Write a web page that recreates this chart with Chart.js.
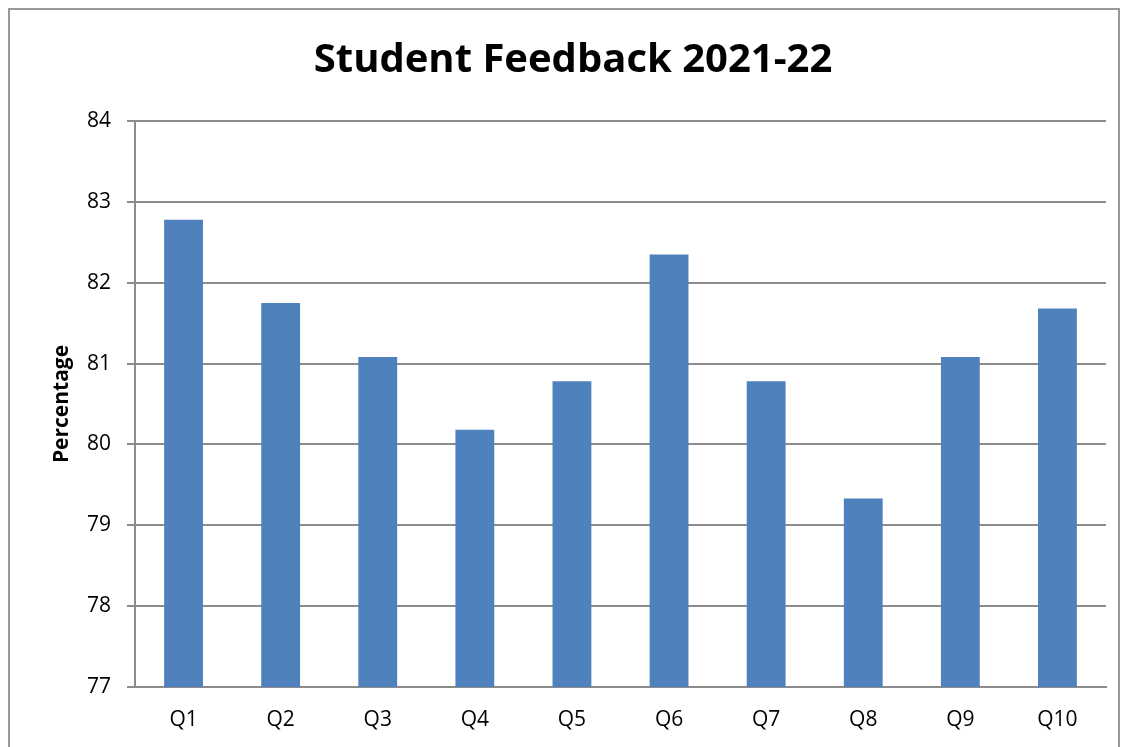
<!DOCTYPE html>
<html>
<head>
<meta charset="utf-8">
<script src="https://cdn.jsdelivr.net/npm/chart.js@4"></script>
<style>
  body { margin: 0; background: #fff; }
  #frame { position: absolute; left: 8px; top: 8px; width: 1108px; height: 760px; border: 2px solid #9a9a9a; }
  #wrap { position: absolute; left: 0; top: 0; width: 1130px; height: 747px; }
</style>
</head>
<body>
<div id="frame"></div>
<div id="wrap"><canvas id="feedbackChart"></canvas></div>
<script>
// Data
const questions = ['Q1', 'Q2', 'Q3', 'Q4', 'Q5', 'Q6', 'Q7', 'Q8', 'Q9', 'Q10'];
const percentages = [82.78, 81.75, 81.08, 80.18, 80.78, 82.35, 80.78, 79.33, 81.08, 81.68];
const yMin = 77;
const yMax = 84;

const FONT = '"Open Sans", "Liberation Sans", sans-serif';

const ctx = document.getElementById('feedbackChart').getContext('2d');
new Chart(ctx, {
    type: 'bar',
    data: {
        labels: questions,
        datasets: [{
            label: 'Percentage',
            data: percentages,
            backgroundColor: '#4f81bd',
            borderWidth: 0,
            barPercentage: 0.4,
            categoryPercentage: 1.0
        }]
    },
    options: {
        responsive: true,
        maintainAspectRatio: false,
        animation: false,
        layout: {
            padding: { left: 40, right: 24, top: 0, bottom: 0 }
        },
        plugins: {
            legend: { display: false },
            tooltip: { enabled: false },
            title: {
                display: true,
                text: 'Student Feedback 2021-22',
                color: '#000',
                font: { family: FONT, size: 40, weight: 'bold' },
                padding: { top: 37, bottom: 36 }
            }
        },
        scales: {
            x: {
                grid: { display: false, drawTicks: false },
                border: { display: true, color: '#8c8c8c', width: 2 },
                ticks: {
                    color: '#000',
                    font: { family: FONT, size: 21 },
                    padding: 20
                },
                afterFit: function (scale) { scale.height = 60; }
            },
            y: {
                min: yMin,
                max: yMax,
                ticks: {
                    stepSize: 1,
                    color: '#000',
                    font: { family: FONT, size: 21 },
                    padding: 16
                },
                grid: { color: '#8c8c8c', lineWidth: 2, tickLength: 8 },
                border: { display: true, color: '#8c8c8c', width: 2 },
                title: {
                    display: true,
                    text: 'Percentage',
                    color: '#000',
                    font: { family: FONT, size: 21, weight: 'bold' },
                    padding: { top: 9, bottom: 0 }
                },
                afterFit: function (scale) { scale.width = 95; }
            }
        }
    }
});
</script>
</body>
</html>
